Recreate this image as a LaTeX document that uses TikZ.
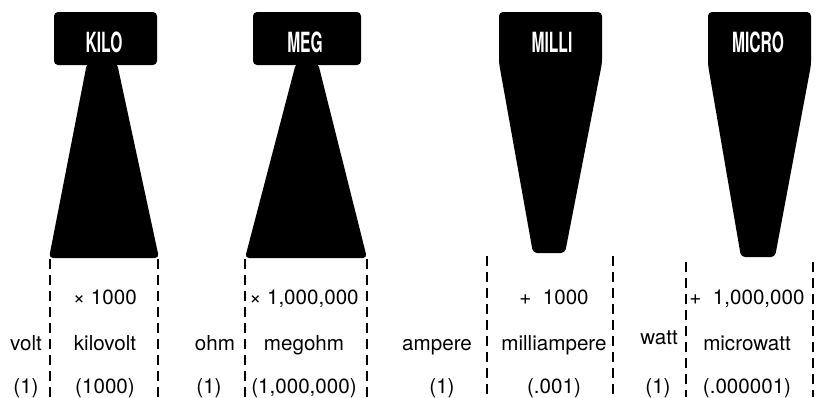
\documentclass[tikz,border=0pt]{standalone}
\usepackage{fontspec}
\setmainfont{TeX Gyre Heros}
\usepackage{tikz}
\usetikzlibrary{positioning, calc}
\tikzset{
  caja/.style={fill=black, rounded corners=2pt},
  guia/.style={line width=1pt, dash pattern=on 5pt off 3pt},
  txt/.style={font=\fontsize{10.3}{12}\selectfont, inner sep=0pt, anchor=base},
  rotulo/.style={font=\fontsize{13.9}{14}\selectfont\bfseries, text=white, inner sep=0pt},
}
\newcommand{\columna}[5]{%
  \node[txt] (#1-f) at (#2,304) {#3};
  \node[txt] (#1-u) at (#2,350) {#4};
  \node[txt] (#1-v) at (#2,393) {#5};%
}

\begin{document}
\begin{tikzpicture}[x=0.5pt, y=-0.5pt]
        \useasboundingbox (0,0) rectangle (818,397);
        % prefijos que multiplican
        \fill[caja] (54,12) rectangle (157,65);
        \fill[caja] (87,63) -- (117,63) -- (159,258) -- (49,258) -- cycle;
        \fill[caja] (253,12) rectangle (361,65);
        \fill[caja] (296,63) -- (318,63) -- (367,258) -- (245,258) -- cycle;
        % prefijos que dividen
        \fill[caja] (499,12) -- (602,12) -- (602,63) -- (565,253) -- (533,253) -- (499,63) -- cycle;
        \fill[caja] (708,12) -- (811,12) -- (811,65) -- (775,257) -- (741,257) -- (708,65) -- cycle;
        \node[rotulo] (kilo) at (104,42) {\scalebox{0.56}[1]{KILO}};
        \node[rotulo] (meg) at (305,42) {\scalebox{0.56}[1]{MEG}};
        \node[rotulo] (milli) at (552,42) {\scalebox{0.56}[1]{MILLI}};
        \node[rotulo] (micro) at (758,42) {\scalebox{0.56}[1]{MICRO}};
        % guias
        \foreach \x/\y in {50/259, 158/259, 245/259, 367/259, 487/256, 613/256, 686/262, 813/262}
          \draw[guia] (\x,\y) -- (\x,397);
        \columna{kv}{105}{× 1000}{kilovolt}{(1000)}
        \columna{mo}{304}{× 1,000,000}{megohm}{(1,000,000)}
        \columna{ma}{554}{+\ \ 1000}{milliampere}{(.001)}
        \columna{mw}{747}{+\ \ 1,000,000}{microwatt}{(.000001)}
        \node[txt] (volt) at (26,350) {volt};
        \node[txt] (volt-v) at (26,393) {(1)};
        \node[txt] (ohm) at (215,350) {ohm};
        \node[txt] (ohm-v) at (209,393) {(1)};
        \node[txt] (ampere) at (437,350) {ampere};
        \node[txt] (ampere-v) at (442,393) {(1)};
        \node[txt] (watt) at (659,344) {watt};
        \node[txt] (watt-v) at (658,393) {(1)};
      \end{tikzpicture}
\end{document}
